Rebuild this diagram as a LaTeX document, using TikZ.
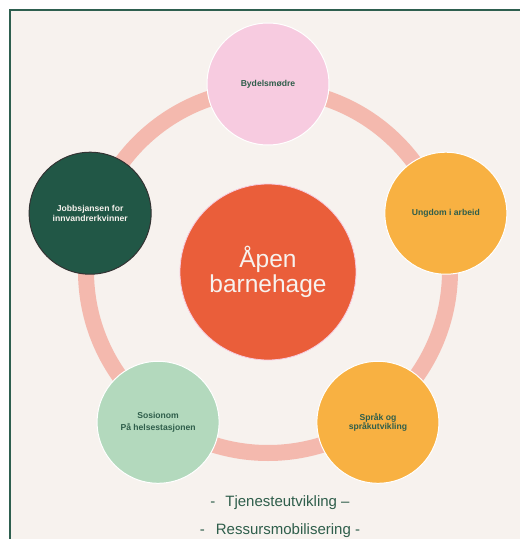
\documentclass[tikz,border=0pt]{standalone}
\usepackage{fontspec}
\setmainfont{Liberation Sans}
\usepackage{xcolor}
\usepackage{tikz}

\definecolor{paper}{HTML}{F7F2EE}
\definecolor{frame}{HTML}{2E5F4F}
\definecolor{ring}{HTML}{F4B9AE}
\definecolor{leaf}{HTML}{2F5E4B}
\definecolor{rosa}{HTML}{F7CBE0}
\definecolor{oransje}{HTML}{F8B142}
\definecolor{mint}{HTML}{B3D9BD}
\definecolor{skog}{HTML}{215746}
\definecolor{hubred}{HTML}{EA5E3A}

\begin{document}
\begin{tikzpicture}[x=1pt, y=1pt,
  spoke/.style={circle, draw=white, line width=1pt, minimum size=122pt,
                inner sep=0pt, align=center, text=leaf,
                font=\fontsize{8.6}{9.6}\selectfont\bfseries},
  hub/.style={circle, fill=hubred, draw=rosa, line width=0.8pt,
              minimum size=176pt, align=center, text=paper,
              font=\fontsize{24.5}{25}\selectfont},
  tagline/.style={anchor=base, text=leaf, font=\fontsize{15}{18}\selectfont}]
  \useasboundingbox (-268,-268) rectangle (252,271);
  \fill[paper] (-258,-268) rectangle (252,261);
  \draw[frame, line width=2.2pt] (-258,-268) -- (-258,261) -- (252,261);
  % ring behind the five partners
  \draw[ring, line width=16pt] (0,0) circle (182);
  \node[hub] (open) at (0,-1) {Åpen\\barnehage};
  \node[spoke, fill=rosa] (mothers) at (90:187pt) {Bydelsmødre};
  \node[spoke, fill=oransje] (youth) at (18:187pt) {Ungdom i arbeid};
  \node[spoke, fill=oransje] (language) at (-54:187pt) {Språk og\\språkutvikling};
  \node[spoke, fill=mint] (social) at (-126:187pt) {Sosionom\\[3pt]På helsestasjonen};
  \node[spoke, fill=skog, draw=black!80, text=paper] (jobs) at (162:187pt)
    {Jobbsjansen for\\innvandrerkvinner};
  \node[tagline] (service) at (12,-235) {-\hspace{10pt}Tjenesteutvikling –};
  \node[tagline] (resources) at (12,-263) {-\hspace{11pt}Ressursmobilisering -};
\end{tikzpicture}
\end{document}
